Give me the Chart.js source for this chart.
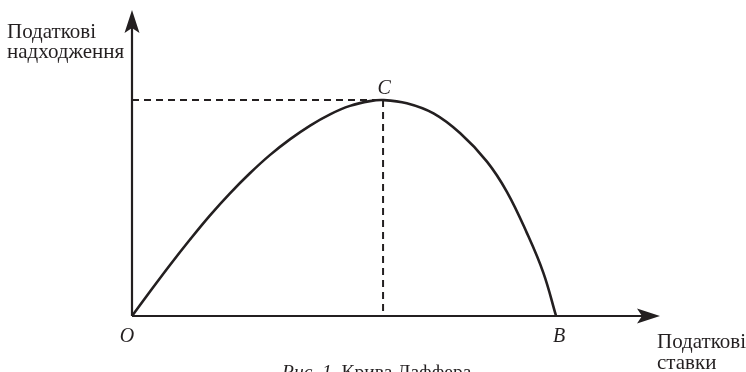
<!DOCTYPE html>
<html lang="uk">

<head>
    <meta charset="UTF-8" />
    <title>Крива Лаффера</title>
    <script src="https://cdn.jsdelivr.net/npm/chart.js"></script>
    <style>
        body { margin: 0; background: #fff; }
        #wrap { width: 746px; height: 372px; }
    </style>
</head>

<body>
    <div id="wrap"><canvas id="laffer" width="746" height="372"></canvas></div>

    <script>
        // tax rate (B = 100) and tax revenue (C = 100)
        const taxRate = [0, 4.25, 8.96, 13.68, 18.4, 23.1, 27.8, 32.5, 37.3, 42.0, 46.7, 51.4, 56.1, 59.2,
            64.8, 71.1, 77.4, 83.7, 88.4, 93.1, 97.0, 100];
        const revenue = [0, 11.3, 23.6, 35.4, 46.6, 56.8, 66.1, 74.5, 81.9, 88.2, 93.4, 97.3, 99.5, 100,
            98.5, 93.8, 84.6, 71.5, 57.5, 38.5, 20.0, 0];
        const axisMax = { x: 124.5, y: 141.7 };
        const peakIndex = 13;
        const pointNames = { origin: 'O', end: 'B', peak: 'C' };
        const axisTitles = { y: ['Податкові', 'надходження'], x: ['Податкові', 'ставки'] };
        const caption = ['Рис. 1.', ' Крива Лаффера'];

        const ink = '#231f20';
        const serif = '"Liberation Serif", "DejaVu Serif", serif';

        function arrow(ctx, x, y, dir) {
            // dir: 'up' or 'right'
            ctx.save();
            ctx.translate(x, y);
            if (dir === 'right') ctx.rotate(Math.PI / 2);
            ctx.beginPath();
            ctx.moveTo(0, 0);
            ctx.lineTo(7.5, 23);
            ctx.lineTo(0, 18);
            ctx.lineTo(-7.5, 23);
            ctx.closePath();
            ctx.fill();
            ctx.restore();
        }

        const lafferDecor = {
            id: 'lafferDecor',
            afterDatasetsDraw(chart) {
                const { ctx, scales } = chart;
                const sx = scales.x, sy = scales.y;
                const x0 = sx.getPixelForValue(0), y0 = sy.getPixelForValue(0);
                const xEnd = sx.getPixelForValue(axisMax.x), yEnd = sy.getPixelForValue(axisMax.y);
                const px = sx.getPixelForValue(taxRate[peakIndex]);
                const py = sy.getPixelForValue(revenue[peakIndex]);
                const bx = sx.getPixelForValue(taxRate[taxRate.length - 1]);

                ctx.save();
                ctx.strokeStyle = ink;
                ctx.fillStyle = ink;

                // dashed guides to C
                ctx.lineWidth = 2;
                ctx.setLineDash([7, 5]);
                ctx.beginPath();
                ctx.moveTo(x0, py);
                ctx.lineTo(px, py);
                ctx.moveTo(px, py);
                ctx.lineTo(px, y0);
                ctx.stroke();
                ctx.setLineDash([]);

                // axes
                ctx.lineWidth = 2.2;
                ctx.beginPath();
                ctx.moveTo(x0, y0);
                ctx.lineTo(x0, yEnd + 15);
                ctx.moveTo(x0, y0);
                ctx.lineTo(xEnd - 15, y0);
                ctx.stroke();
                arrow(ctx, x0, yEnd, 'up');
                arrow(ctx, xEnd, y0, 'right');

                // point names
                ctx.font = 'italic 20px ' + serif;
                ctx.textAlign = 'center';
                ctx.textBaseline = 'alphabetic';
                ctx.fillText(pointNames.origin, x0 - 5, y0 + 26);
                ctx.fillText(pointNames.end, bx + 3, y0 + 26);
                ctx.fillText(pointNames.peak, px + 1, py - 6);

                // axis titles
                ctx.font = '21px ' + serif;
                ctx.textAlign = 'left';
                ctx.fillText(axisTitles.y[0], 7, 38);
                ctx.fillText(axisTitles.y[1], 7, 58);
                ctx.fillText(axisTitles.x[0], 657, 348);
                ctx.fillText(axisTitles.x[1], 657, 369);

                // figure caption (cut by the bottom edge)
                ctx.font = 'italic 19.5px ' + serif;
                ctx.fillText(caption[0], 282, 378);
                const w = ctx.measureText(caption[0]).width;
                ctx.font = '19.5px ' + serif;
                ctx.fillText(caption[1], 282 + w, 378);
                ctx.restore();
            }
        };

        new Chart(document.getElementById('laffer'), {
            type: 'scatter',
            data: {
                datasets: [{
                    data: taxRate.map((x, i) => ({ x: x, y: revenue[i] })),
                    showLine: true,
                    borderColor: ink,
                    borderWidth: 2.6,
                    pointRadius: 0,
                    tension: 0.4,
                    clip: false
                }]
            },
            options: {
                responsive: false,
                animation: false,
                layout: { padding: { left: 132, right: 86, top: 10, bottom: 56 } },
                plugins: { legend: { display: false }, tooltip: { enabled: false } },
                scales: {
                    x: { type: 'linear', min: 0, max: axisMax.x, display: false },
                    y: { type: 'linear', min: 0, max: axisMax.y, display: false }
                }
            },
            plugins: [lafferDecor]
        });
    </script>
</body>

</html>
